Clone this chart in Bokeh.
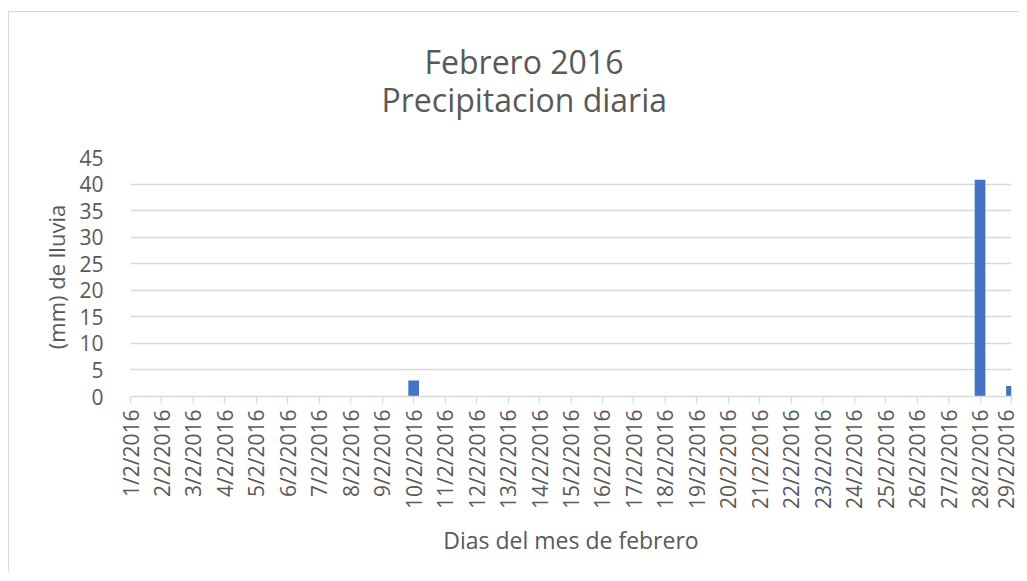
from bokeh.plotting import figure
from bokeh.models import FixedTicker, Title, Range1d
from bokeh.embed import file_html
from bokeh.resources import INLINE

days = list(range(1, 30))
labels = [f"{d}/2/2016" for d in days]
rain = [0, 0, 0, 0, 0, 0, 0, 0, 0, 3.0, 0, 0, 0, 0, 0, 0, 0, 0, 0, 0,
        0, 0, 0, 0, 0, 0, 0, 40.8, 2.0]
yticks = [0, 5, 10, 15, 20, 25, 30, 35, 40, 45]
title_lines = ["Febrero 2016", "Precipitacion diaria"]

FONT = "Open Sans"
GREY = "#595959"
LINE = "#d9d9d9"

p = figure(width=1011, height=560, output_backend="svg", toolbar_location=None,
           x_range=Range1d(1, 29), y_range=Range1d(0, 45),
           min_border_left=121, min_border_right=9, min_border_top=145,
           min_border_bottom=176)
p.styles = {"border-left": "1px solid #d9d9d9", "border-top": "1px solid #d9d9d9",
            "margin-left": "8px", "margin-top": "11px"}

bars = [(d, v) for d, v in zip(days, rain) if v > 0]
p.vbar(x=[b[0] for b in bars], top=[b[1] for b in bars], width=0.34,
       color="#4472c4", line_color=None)

p.outline_line_color = None
p.background_fill_color = "white"
p.border_fill_color = "white"

p.xgrid.grid_line_color = None
p.ygrid.grid_line_color = LINE
p.ygrid.grid_line_width = 1.3
p.ygrid.ticker = FixedTicker(ticks=yticks)

xa = p.xaxis[0]
xa.ticker = FixedTicker(ticks=days)
xa.major_label_overrides = {d: l for d, l in zip(days, labels)}
xa.major_label_orientation = 1.5707963
xa.major_label_text_font = FONT
xa.major_label_text_font_size = "21px"
xa.major_label_text_color = GREY
xa.major_label_standoff = 6
xa.axis_line_color = LINE
xa.axis_line_width = 1.3
xa.major_tick_line_color = LINE
xa.major_tick_line_width = 1.3
xa.major_tick_in = 0
xa.major_tick_out = 7
xa.minor_tick_line_color = None
xa.axis_label = "Dias del mes de febrero"
xa.axis_label_text_font = FONT
xa.axis_label_text_font_size = "23px"
xa.axis_label_text_font_style = "normal"
xa.axis_label_text_color = GREY
xa.axis_label_standoff = 12

ya = p.yaxis[0]
ya.ticker = FixedTicker(ticks=yticks)
ya.axis_line_color = None
ya.major_tick_line_color = None
ya.minor_tick_line_color = None
ya.major_label_text_font = FONT
ya.major_label_text_font_size = "21px"
ya.major_label_text_color = GREY
ya.major_label_standoff = 21
ya.axis_label = "(mm) de lluvia"
ya.axis_label_text_font = FONT
ya.axis_label_text_font_size = "22px"
ya.axis_label_text_font_style = "normal"
ya.axis_label_text_color = GREY
ya.axis_label_standoff = 5

t2 = Title(text=title_lines[1], align="left", offset=251, standoff=74,
           text_font=FONT, text_font_size="32px", text_font_style="normal",
           text_color=GREY)
t1 = Title(text=title_lines[0], align="left", offset=294, standoff=-89,
           text_font=FONT, text_font_size="32px", text_font_style="normal",
           text_color=GREY)
p.add_layout(t2, "above")
p.add_layout(t1, "above")

open("out.html", "w").write(file_html(p, INLINE))
